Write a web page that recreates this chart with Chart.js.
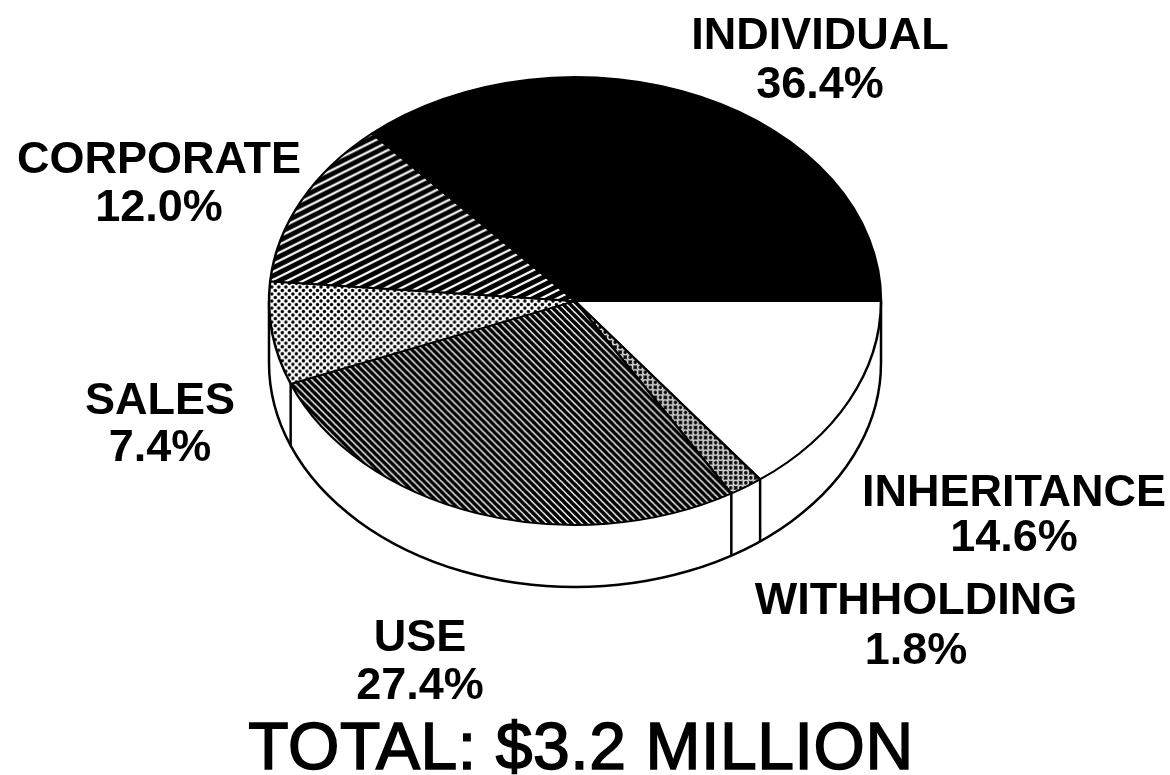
<!DOCTYPE html>
<html>
<head>
<meta charset="utf-8">
<title>Tax revenue</title>
<script src="https://cdn.jsdelivr.net/npm/chart.js@4/dist/chart.umd.min.js"></script>
<style>
    html, body { margin: 0; padding: 0; background: #fff; }
    #wrap { position: relative; width: 1170px; height: 775px; overflow: hidden; }
    #pie { position: absolute; left: 0; top: 0; }
    .lbl {
        position: absolute;
        transform: translate(-50%, -50%);
        font: bold 45px "Liberation Sans", Arial, sans-serif;
        color: #000;
        white-space: nowrap;
        line-height: 1;
    }
    #total { font-size: 66px; font-weight: normal; letter-spacing: 0.6px; -webkit-text-stroke: 1.6px #000; }
</style>
</head>
<body>
<div id="wrap">
    <canvas id="pie" width="1170" height="775"></canvas>
</div>
<script>
// Dados (sentido horario a partir do leste)
const categories = ['INHERITANCE', 'WITHHOLDING', 'USE', 'SALES', 'CORPORATE', 'INDIVIDUAL'];
const shares = [14.6, 1.8, 27.4, 7.4, 12.0, 36.4];
const totalLabel = 'TOTAL: $3.2 MILLION';

// Posicao dos rotulos: [x, y nome, y percentual]
const labelSpots = [
    [1014, 490, 535],
    [916, 598, 648],
    [420, 635, 683],
    [160, 398, 445],
    [159, 157, 205],
    [820, 33, 82],
];

const CX = 575, CY = 301, RX = 306, RY = 224, DEPTH = 62;

function makeTile(w, h, paint) {
    const tile = document.createElement('canvas');
    tile.width = w;
    tile.height = h;
    const c = tile.getContext('2d');
    paint(c, w, h);
    const pattern = c.createPattern(tile, 'repeat');
    // o pie e achatado depois, entao desfaz o achatamento na textura
    pattern.setTransform(new DOMMatrix().scale(1, RX / RY));
    return pattern;
}

function lineTile(w, h, ink, paper, lineWidth, rising) {
    return makeTile(w, h, (c) => {
        c.fillStyle = paper;
        c.fillRect(0, 0, w, h);
        c.strokeStyle = ink;
        c.lineWidth = lineWidth;
        for (let k = -1; k <= 1; k++) {
            // passa da borda do tile para nao deixar emenda
            c.beginPath();
            if (rising) {
                c.moveTo(-w, 2 * h + k * h);
                c.lineTo(2 * w, -h + k * h);
            } else {
                c.moveTo(-w, -h + k * h);
                c.lineTo(2 * w, 2 * h + k * h);
            }
            c.stroke();
        }
    });
}

function dotTile(size, ink, paper, radius) {
    return makeTile(size, size, (c) => {
        c.fillStyle = paper;
        c.fillRect(0, 0, size, size);
        c.fillStyle = ink;
        [[0, 0], [size, 0], [0, size], [size, size], [size / 2, size / 2]].forEach(([x, y]) => {
            c.beginPath();
            c.arc(x, y, radius, 0, Math.PI * 2);
            c.fill();
        });
    });
}

function ringTile(size) {
    return makeTile(size, size, (c) => {
        c.fillStyle = '#000';
        c.fillRect(0, 0, size, size);
        [[0, 0], [size, 0], [0, size], [size, size], [size / 2, size / 2]].forEach(([x, y]) => {
            c.fillStyle = '#fff';
            c.beginPath();
            c.arc(x, y, 3.3, 0, Math.PI * 2);
            c.fill();
            c.fillStyle = '#000';
            c.beginPath();
            c.arc(x, y, 1.9, 0, Math.PI * 2);
            c.fill();
        });
    });
}

function sliceFills() {
    return [
        '#ffffff',
        ringTile(10),
        lineTile(7, 7, '#000000', '#ffffff', 3.6, false),
        dotTile(7, '#000000', '#ffffff', 1.7),
        lineTile(16, 8, '#000000', '#ffffff', 5, true),
        '#000000',
    ];
}

// Achata o pie em elipse e desenha a lateral 3D
const tiltPlugin = {
    id: 'tilt',
    beforeDatasetsDraw(chart) {
        const ctx = chart.ctx;
        const arcs = chart.getDatasetMeta(0).data;
        ctx.save();
        ctx.fillStyle = '#fff';
        ctx.strokeStyle = '#000';
        ctx.lineWidth = 2.5;
        ctx.beginPath();
        ctx.moveTo(CX - RX, CY);
        ctx.lineTo(CX - RX, CY + DEPTH);
        ctx.ellipse(CX, CY + DEPTH, RX, RY, 0, Math.PI, 0, true);
        ctx.lineTo(CX + RX, CY);
        ctx.fill();
        ctx.stroke();
        // linhas verticais nas divisoes da metade de baixo
        arcs.forEach((arc) => {
            const a = arc.endAngle;
            if (Math.sin(a) <= 0) return;
            const x = CX + RX * Math.cos(a);
            const y = CY + RY * Math.sin(a);
            ctx.beginPath();
            ctx.moveTo(x, y);
            ctx.lineTo(x, y + DEPTH);
            ctx.stroke();
        });
        ctx.restore();

        const first = arcs[0];
        ctx.save();
        ctx.translate(CX, CY);
        ctx.scale(RX / first.outerRadius, RY / first.outerRadius);
        ctx.translate(-first.x, -first.y);
    },
    afterDatasetsDraw(chart) {
        chart.ctx.restore();
    },
};

new Chart(document.getElementById('pie'), {
    type: 'pie',
    data: {
        labels: categories,
        datasets: [{
            data: shares,
            backgroundColor: sliceFills(),
            borderColor: '#000',
            borderWidth: 2.5,
        }],
    },
    options: {
        responsive: false,
        animation: false,
        rotation: 90,
        layout: { padding: { left: 269, right: 289, top: 0, bottom: 163 } },
        plugins: {
            legend: { display: false },
            tooltip: { enabled: false },
        },
    },
    plugins: [tiltPlugin],
});

// Rotulos como texto real
const wrap = document.getElementById('wrap');

function addText(text, x, y, id) {
    const el = document.createElement('div');
    el.className = 'lbl';
    if (id) el.id = id;
    el.style.left = x + 'px';
    el.style.top = y + 'px';
    el.textContent = text;
    wrap.appendChild(el);
}

categories.forEach((name, i) => {
    const [x, y1, y2] = labelSpots[i];
    addText(name, x, y1);
    addText(shares[i].toFixed(1) + '%', x, y2);
});
addText(totalLabel, 581, 746, 'total');
</script>
</body>
</html>
